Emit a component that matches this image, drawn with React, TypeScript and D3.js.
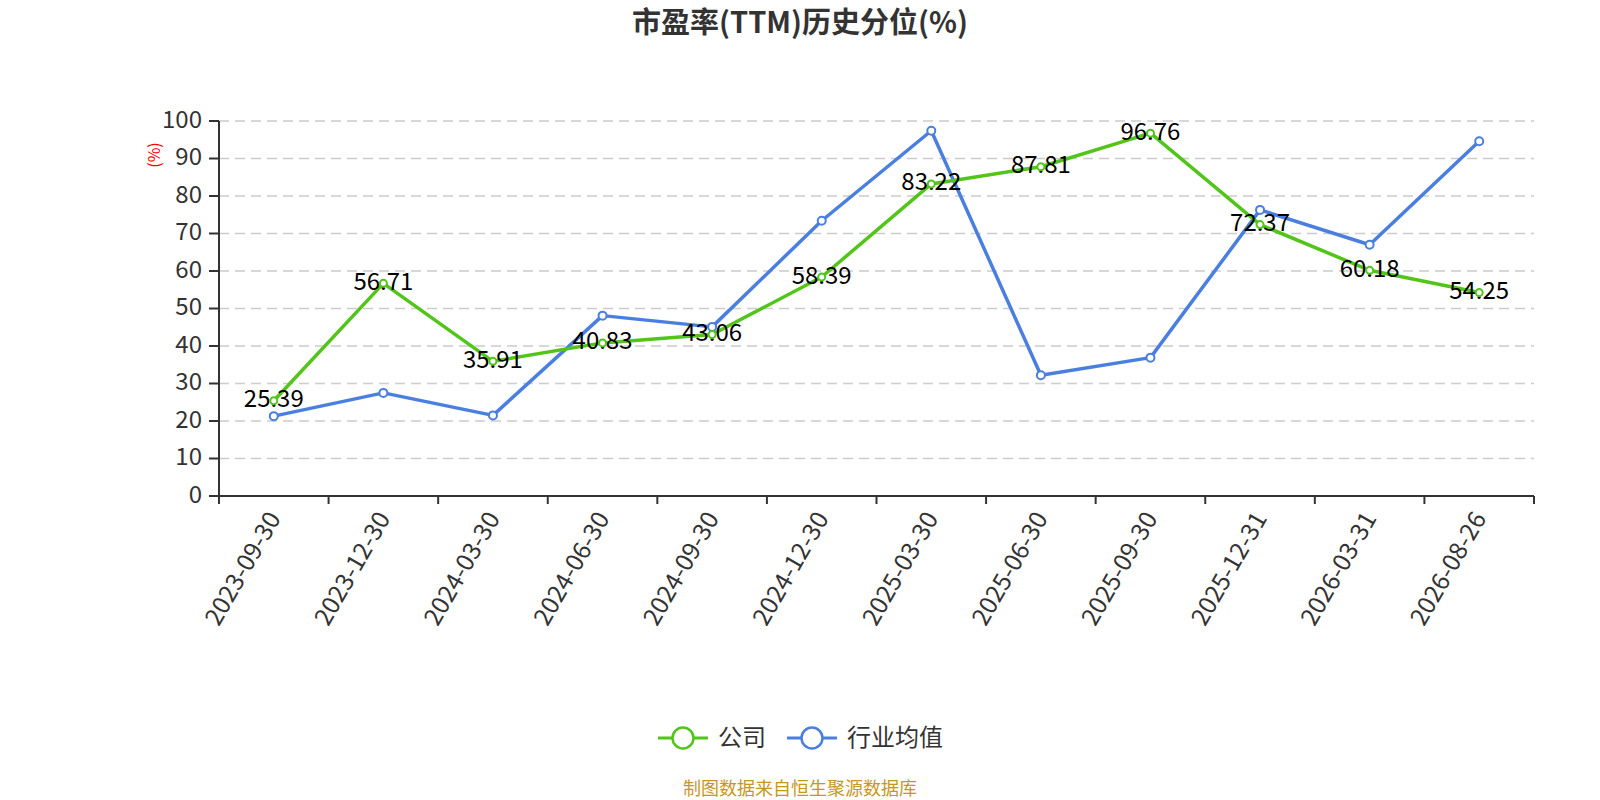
import { useEffect, useRef } from 'react';
import * as d3 from 'd3';

const dates = [
  '2023-09-30', '2023-12-30', '2024-03-30', '2024-06-30', '2024-09-30', '2024-12-30',
  '2025-03-30', '2025-06-30', '2025-09-30', '2025-12-31', '2026-03-31', '2026-08-26',
];
const company = [25.39, 56.71, 35.91, 40.83, 43.06, 58.39, 83.22, 87.81, 96.76, 72.37, 60.18, 54.25];
const industry = [21.3, 27.5, 21.5, 48.1, 45.1, 73.4, 97.4, 32.2, 36.9, 76.3, 67.0, 94.6];
const yTicks = [0, 10, 20, 30, 40, 50, 60, 70, 80, 90, 100];

const series = [
  { name: '公司', color: '#52c41a', values: company, r: 3.5 },
  { name: '行业均值', color: '#4a7fe0', values: industry, r: 4 },
];

const W = 1600;
const H = 800;
const FONT = '"Noto Sans CJK SC", "Noto Sans", sans-serif';

export default function App() {
  const svgRef = useRef<SVGSVGElement>(null);

  useEffect(() => {
    if (!svgRef.current) return;
    const svg = d3.select(svgRef.current);
    svg.selectAll('*').remove();

    const left = 219, right = 1534, top = 121, bottom = 496;

    const x = d3.scaleBand<string>().domain(dates).range([left, right]);
    const y = d3.scaleLinear().domain([0, 100]).range([bottom, top]);
    const cx = (d: string) => (x(d) ?? 0) + x.bandwidth() / 2;

    // Title
    svg.append('text')
      .attr('x', 800).attr('y', 33)
      .attr('text-anchor', 'middle')
      .style('font-family', FONT).style('font-size', '29px').style('font-weight', '700')
      .style('fill', '#333').text('市盈率(TTM)历史分位(%)');

    // Grid lines
    svg.append('g').selectAll('line')
      .data(yTicks.filter((t) => t > 0))
      .join('line')
      .attr('x1', left).attr('x2', right)
      .attr('y1', (d) => y(d)).attr('y2', (d) => y(d))
      .attr('stroke', '#ccc').attr('stroke-width', 1.5)
      .attr('stroke-dasharray', '10,6');

    // Y axis
    svg.append('line')
      .attr('x1', left).attr('x2', left).attr('y1', top).attr('y2', bottom)
      .attr('stroke', '#333').attr('stroke-width', 2);
    const yg = svg.append('g');
    yg.selectAll('line').data(yTicks).join('line')
      .attr('x1', left - 10).attr('x2', left)
      .attr('y1', (d) => y(d)).attr('y2', (d) => y(d))
      .attr('stroke', '#333').attr('stroke-width', 2);
    yg.selectAll('text').data(yTicks).join('text')
      .attr('x', left - 17).attr('y', (d) => y(d))
      .attr('text-anchor', 'end').attr('dominant-baseline', 'middle')
      .style('font-family', FONT).style('font-size', '24px').style('fill', '#333')
      .text((d) => d);

    svg.append('text')
      .attr('transform', `translate(156, 155) rotate(-90)`)
      .attr('text-anchor', 'middle').attr('dominant-baseline', 'middle')
      .style('font-family', FONT).style('font-size', '16px').style('fill', 'red')
      .text('(%)');

    // X axis
    svg.append('line')
      .attr('x1', left).attr('x2', right).attr('y1', bottom).attr('y2', bottom)
      .attr('stroke', '#333').attr('stroke-width', 2);
    const boundaries = dates.map((d) => x(d) ?? 0).concat([right]);
    svg.append('g').selectAll('line').data(boundaries).join('line')
      .attr('x1', (d) => d).attr('x2', (d) => d)
      .attr('y1', bottom).attr('y2', bottom + 8)
      .attr('stroke', '#333').attr('stroke-width', 2);
    svg.append('g').selectAll('text').data(dates).join('text')
      .attr('transform', (d) => `translate(${cx(d) + 2}, ${bottom + 19}) rotate(-60)`)
      .attr('text-anchor', 'end').attr('dominant-baseline', 'middle')
      .style('font-family', FONT).style('font-size', '24.5px').style('fill', '#333')
      .text((d) => d);

    const line = d3.line<number>()
      .x((_, i) => cx(dates[i]))
      .y((v) => y(v));

    // Series: industry first, then company on top
    [...series].reverse().forEach((s) => {
      svg.append('path')
        .datum(s.values)
        .attr('d', line)
        .attr('fill', 'none')
        .attr('stroke', s.color)
        .attr('stroke-width', 3.5)
        .attr('stroke-linejoin', 'round');
    });

    // Labels for company
    svg.append('g').selectAll('text').data(company).join('text')
      .attr('x', (_, i) => cx(dates[i]))
      .attr('y', (v) => y(v))
      .attr('text-anchor', 'middle').attr('dominant-baseline', 'middle')
      .style('font-family', FONT).style('font-size', '24px').style('fill', '#000')
      .text((v) => v.toFixed(2));

    [...series].reverse().forEach((s) => {
      svg.append('g').selectAll('circle').data(s.values).join('circle')
        .attr('cx', (_, i) => cx(dates[i]))
        .attr('cy', (v) => y(v))
        .attr('r', s.r)
        .attr('fill', '#fff')
        .attr('stroke', s.color)
        .attr('stroke-width', 2);
    });

    // Legend
    const legendX = [658, 787];
    series.forEach((s, i) => {
      const g = svg.append('g').attr('transform', `translate(${legendX[i]}, 738)`);
      g.append('line').attr('x1', 0).attr('x2', 50).attr('y1', 0).attr('y2', 0)
        .attr('stroke', s.color).attr('stroke-width', 3);
      g.append('circle').attr('cx', 25).attr('cy', 0).attr('r', 10.5)
        .attr('fill', '#fff').attr('stroke', s.color).attr('stroke-width', 2.5);
      g.append('text').attr('x', 60).attr('y', 1)
        .attr('dominant-baseline', 'middle')
        .style('font-family', FONT).style('font-size', '24px').style('fill', '#333')
        .text(s.name);
    });

    // Source
    svg.append('text')
      .attr('x', 800).attr('y', 790)
      .attr('text-anchor', 'middle').attr('dominant-baseline', 'middle')
      .style('font-family', FONT).style('font-size', '18px').style('fill', '#c8961e')
      .text('制图数据来自恒生聚源数据库');
  }, []);

  return (
    <svg
      ref={svgRef}
      width={W}
      height={H}
      style={{ position: 'absolute', left: 0, top: 0, background: '#fff' }}
    />
  );
}
